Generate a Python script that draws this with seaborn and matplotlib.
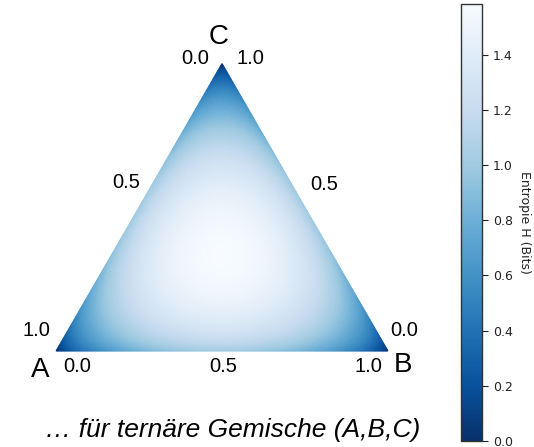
import numpy as np
import matplotlib
matplotlib.use("Agg")
import matplotlib.pyplot as plt
import matplotlib.tri as mtri
import seaborn as sns

# Labels and ticks
vertex_labels = ["A", "B", "C"]
edge_tick_values = [0.0, 0.5, 1.0]
cbar_ticks = [0.0, 0.2, 0.4, 0.6, 0.8, 1.0, 1.2, 1.4]
cbar_label = "Entropie H (Bits)"
caption = "\u2026 für ternäre Gemische (A,B,C)"
grid_steps = 240  # subdivisions of each composition axis

sns.set_style("white")
plt.rcParams["font.family"] = ["DejaVu Sans"]
cmap = sns.color_palette("Blues_r", as_cmap=True)

# Ternary composition grid (x_A + x_B + x_C = 1)
n = grid_steps
ii, jj = np.meshgrid(np.arange(n + 1), np.arange(n + 1))
keep = ii + jj <= n
x_b = ii[keep] / n
x_c = jj[keep] / n
x_a = 1.0 - x_b - x_c
P = np.clip(np.vstack([x_a, x_b, x_c]), 0.0, 1.0)
logP = np.log2(np.where(P > 0, P, 1.0))
H = -(P * logP).sum(axis=0)
h_max = np.log2(3)

# Cartesian position inside the triangle A(0,0), B(1,0), C(0.5, sqrt3/2)
px = x_b + 0.5 * x_c
py = x_c * np.sqrt(3) / 2
tri = mtri.Triangulation(px, py)

W, Hh = 534, 447
fig = plt.figure(figsize=(W / 100, Hh / 100), dpi=100)

scale = 332.0            # pixels per unit edge length
ox, oy = 56.0, 351.0     # pixel position of vertex A (from top-left)
ax_w = 445.0
ax = fig.add_axes([0, 0, ax_w / W, 1])
ax.set_xlim(-ox / scale, (ax_w - ox) / scale)
ax.set_ylim(-(Hh - oy) / scale, oy / scale)
ax.axis("off")

mesh = ax.tripcolor(tri, H, cmap=cmap, shading="gouraud", vmin=0, vmax=h_max)


def at(xpix, ypix):
    return (xpix - ox) / scale, (oy - ypix) / scale


lab_font = ["Liberation Sans", "DejaVu Sans"]
num_kw = dict(fontsize=14.5, family=lab_font, ha="center", va="center", color="black")
let_kw = dict(fontsize=20, family=lab_font, ha="center", va="center", color="black")

# Vertex names
ax.text(*at(40, 370), vertex_labels[0], **let_kw)
ax.text(*at(403, 365), vertex_labels[1], **let_kw)
ax.text(*at(219, 37), vertex_labels[2], **let_kw)

# Bottom edge: fraction of B
for v, xp in zip(edge_tick_values, [77, 223, 368]):
    ax.text(*at(xp, 366), f"{v:.1f}", **num_kw)
# Left edge: fraction of A (1 at A, 0 at C)
for v, (xp, yp) in zip(edge_tick_values[::-1], [(36, 331), (126, 182), (195, 59)]):
    ax.text(*at(xp, yp), f"{v:.1f}", **num_kw)
# Right edge: fraction of C (0 at B, 1 at C)
for v, (xp, yp) in zip(edge_tick_values, [(404, 331), (324, 184), (250, 59)]):
    ax.text(*at(xp, yp), f"{v:.1f}", **num_kw)

ax.text(*at(233, 430), caption, fontsize=19, family=lab_font, style="italic",
        ha="center", va="center", color="black")

# Colour bar
cb_top, cb_bot = 3.5, 441.0
cax = fig.add_axes([461 / W, (Hh - cb_bot) / Hh, 21 / W, (cb_bot - cb_top) / Hh])
cb = fig.colorbar(mesh, cax=cax, ticks=cbar_ticks)
cb.ax.tick_params(labelsize=9, length=4, width=0.8, pad=4, colors="#222222")
cb.outline.set_linewidth(1.0)
cb.outline.set_edgecolor("#333333")
cb.set_label(cbar_label, rotation=270, fontsize=9, labelpad=13, color="#222222")

fig.savefig("out.png", dpi=100)
